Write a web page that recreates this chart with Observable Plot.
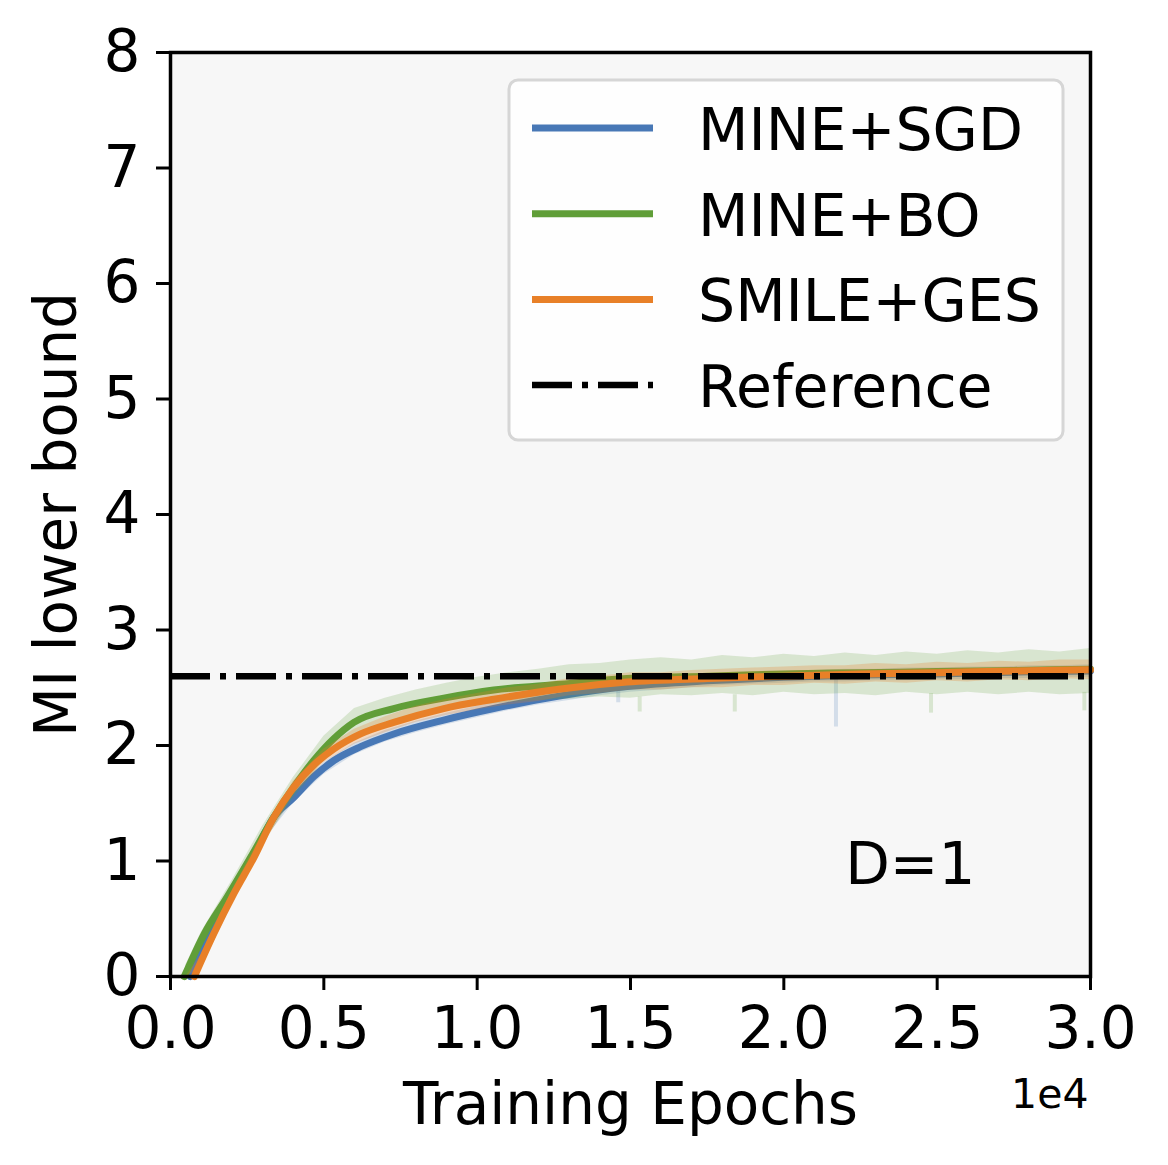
<!DOCTYPE html>
<html><head><meta charset="utf-8">
<script src="https://cdn.jsdelivr.net/npm/d3@7"></script>
<script src="https://cdn.jsdelivr.net/npm/@observablehq/plot@0.6"></script>
<style>body{margin:0;background:#fff;} svg{display:block;}</style>
</head><body><div id="chart"></div>
<script>
// ---- data (x in units of 1e4 epochs) ----
const seriesNames = ["MINE+SGD", "MINE+BO", "SMILE+GES"];
const seriesColors = ["#4878b6", "#609e38", "#e88028"];
const referenceName = "Reference";
const referenceMI = 2.6;

const sgdX = [0.064, 0.13, 0.196, 0.267, 0.337, 0.402, 0.467, 0.533, 0.62, 0.728, 0.891, 1.054, 1.272, 1.489, 1.75, 2.0, 2.25, 2.5, 2.75, 3.0];
const sgdY = [0.0, 0.37, 0.72, 1.03, 1.38, 1.55, 1.73, 1.87, 1.99, 2.10, 2.22, 2.32, 2.43, 2.51, 2.56, 2.59, 2.61, 2.62, 2.635, 2.645];

const boX = [0.045, 0.11, 0.185, 0.261, 0.337, 0.402, 0.467, 0.533, 0.598, 0.728, 0.891, 1.054, 1.272, 1.489, 1.75, 2.0, 2.25, 2.5, 2.75, 3.0];
const boY = [0.0, 0.37, 0.69, 1.03, 1.38, 1.64, 1.87, 2.06, 2.20, 2.32, 2.41, 2.48, 2.53, 2.58, 2.60, 2.62, 2.63, 2.64, 2.65, 2.66];

const gesX = [0.078, 0.141, 0.207, 0.272, 0.337, 0.402, 0.467, 0.533, 0.62, 0.728, 0.891, 1.054, 1.272, 1.489, 1.75, 2.0, 2.25, 2.5, 2.75, 3.0];
const gesY = [0.0, 0.37, 0.72, 1.03, 1.38, 1.64, 1.83, 1.97, 2.10, 2.20, 2.32, 2.40, 2.49, 2.55, 2.58, 2.60, 2.62, 2.63, 2.645, 2.655];

// spread of the raw (unsmoothed) runs
const bandX = [0.05, 0.1, 0.2, 0.3, 0.4, 0.5, 0.6, 0.7, 0.8, 0.9, 1.0, 1.1, 1.2, 1.3, 1.4, 1.5, 1.6, 1.7, 1.8, 1.9, 2.0, 2.1, 2.2, 2.3, 2.4, 2.5, 2.6, 2.7, 2.8, 2.9, 3.0];
const sgdLow  = [0, 0.15, 0.69, 1.16, 1.50, 1.75, 1.92, 2.03, 2.11, 2.18, 2.24, 2.30, 2.35, 2.39, 2.43, 2.46, 2.48, 2.50, 2.52, 2.53, 2.54, 2.55, 2.55, 2.56, 2.56, 2.57, 2.57, 2.58, 2.58, 2.59, 2.59];
const sgdHigh = [0, 0.25, 0.79, 1.26, 1.60, 1.85, 2.02, 2.13, 2.21, 2.28, 2.34, 2.40, 2.45, 2.49, 2.53, 2.56, 2.58, 2.60, 2.62, 2.63, 2.64, 2.65, 2.66, 2.66, 2.67, 2.67, 2.68, 2.68, 2.69, 2.69, 2.70];
const boLow   = [0, 0.24, 0.67, 1.14, 1.54, 1.87, 2.09, 2.19, 2.26, 2.31, 2.35, 2.37, 2.39, 2.40, 2.42, 2.41, 2.44, 2.43, 2.45, 2.43, 2.46, 2.44, 2.45, 2.43, 2.46, 2.44, 2.46, 2.44, 2.46, 2.44, 2.45];
const boHigh  = [0.10, 0.38, 0.83, 1.30, 1.72, 2.08, 2.32, 2.41, 2.48, 2.54, 2.59, 2.63, 2.66, 2.70, 2.71, 2.74, 2.76, 2.74, 2.78, 2.76, 2.79, 2.77, 2.80, 2.78, 2.81, 2.79, 2.82, 2.80, 2.83, 2.81, 2.84];
const gesLow  = [0, 0.07, 0.62, 1.12, 1.57, 1.85, 2.01, 2.11, 2.20, 2.26, 2.31, 2.35, 2.38, 2.43, 2.45, 2.48, 2.48, 2.50, 2.50, 2.52, 2.52, 2.54, 2.53, 2.55, 2.54, 2.56, 2.55, 2.57, 2.56, 2.58, 2.57];
const gesHigh = [0, 0.19, 0.74, 1.24, 1.69, 1.97, 2.14, 2.25, 2.34, 2.40, 2.45, 2.50, 2.53, 2.58, 2.60, 2.63, 2.63, 2.65, 2.66, 2.67, 2.68, 2.69, 2.69, 2.71, 2.70, 2.72, 2.71, 2.73, 2.72, 2.74, 2.74];

// downward spikes in the raw runs
const spikeSeries = ["MINE+SGD", "MINE+SGD", "MINE+BO", "MINE+BO", "MINE+BO", "MINE+BO"];
const spikeX    = [1.46, 2.17, 1.53, 1.84, 2.48, 2.98];
const spikeLow  = [2.37, 2.16, 2.29, 2.29, 2.28, 2.30];
const spikeHigh = [2.50, 2.58, 2.42, 2.44, 2.45, 2.46];

const xTicks = [0, 0.5, 1.0, 1.5, 2.0, 2.5, 3.0];
const yTicks = [0, 1, 2, 3, 4, 5, 6, 7, 8];
const xLabel = "Training Epochs";
const yLabel = "MI lower bound";
const xExponent = "1e4";
const annotations = [{x: 2.2, y: 0.8, text: "D=1"}];

// ---- tables ----
const curves = [[sgdX, sgdY], [boX, boY], [gesX, gesY]].map(([xs, ys], i) =>
  xs.map((x, j) => ({series: seriesNames[i], x, y: ys[j]})));
const bands = [[sgdLow, sgdHigh], [boLow, boHigh], [gesLow, gesHigh]].map(([lo, hi], i) =>
  bandX.map((x, j) => ({series: seriesNames[i], x, lo: lo[j], hi: hi[j]})));
const spikes = spikeX.map((x, i) => ({series: spikeSeries[i], x, lo: spikeLow[i], hi: spikeHigh[i]}));

const bandOpacity = [0.2, 0.2, 0.26];
const marks = [Plot.frame({fill: "#f7f7f7"})];
seriesNames.forEach((name, i) => {
  marks.push(Plot.areaY(bands[i], {x: "x", y1: "lo", y2: "hi", fill: seriesColors[i], fillOpacity: bandOpacity[i]}));
  marks.push(Plot.ruleX(spikes.filter(d => d.series === name), {x: "x", y1: "lo", y2: "hi", stroke: seriesColors[i], strokeOpacity: bandOpacity[i], strokeWidth: 4}));
  marks.push(Plot.line(curves[i], {x: "x", y: "y", stroke: seriesColors[i], strokeWidth: 7, curve: "monotone-x"}));
});
marks.push(Plot.ruleY([referenceMI], {stroke: "black", strokeWidth: 6.5, strokeDasharray: "40,10,6,10"}));
marks.push(Plot.frame({stroke: "black", strokeWidth: 3.5}));
marks.push(Plot.axisX(xTicks, {tickFormat: d3.format(".1f"), tickSize: 14, tickPadding: 16, strokeWidth: 3, label: null, fontSize: 58}));
marks.push(Plot.axisY(yTicks, {tickFormat: d3.format("d"), tickSize: 14, tickPadding: 16, strokeWidth: 3, label: null, fontSize: 58, dy: 0}));
marks.push(Plot.text([xLabel], {text: d => d, frameAnchor: "bottom", lineAnchor: "bottom", dy: 147, fontSize: 58}));
marks.push(Plot.text([yLabel], {text: d => d, frameAnchor: "left", rotate: -90, lineAnchor: "bottom", textAnchor: "middle", dx: -95, fontSize: 58}));
marks.push(Plot.text([xExponent], {text: d => d, frameAnchor: "bottom-right", textAnchor: "end", lineAnchor: "bottom", dy: 131, dx: -2, fontSize: 41}));
marks.push(Plot.text(annotations, {x: "x", y: "y", text: "text", textAnchor: "start", lineAnchor: "bottom", fontSize: 58}));

const chart = Plot.plot({
  width: 1168, height: 1165,
  marginLeft: 170, marginRight: 78, marginTop: 52, marginBottom: 189,
  x: {domain: [0, 3]},
  y: {domain: [0, 8]},
  style: {fontFamily: "'DejaVu Sans', sans-serif", fontSize: "58px", color: "black", background: "white"},
  marks
});
document.getElementById("chart").appendChild(chart);

// ---- legend (inside the axes, upper right) ----
const svg = d3.select(chart);
const lg = svg.append("g").attr("font-family", "'DejaVu Sans', sans-serif").attr("font-size", 58.5).attr("text-anchor", "start");
lg.append("rect").attr("x", 509).attr("y", 80).attr("width", 554).attr("height", 360).attr("rx", 9)
  .attr("fill", "white").attr("fill-opacity", 0.85).attr("stroke", "#d6d6d6").attr("stroke-width", 3);
const legendItems = seriesNames.map((n, i) => ({name: n, color: seriesColors[i], dash: null}))
  .concat([{name: referenceName, color: "black", dash: "40,10,6,10"}]);
legendItems.forEach((d, i) => {
  const y = 128 + i * 85.7;
  lg.append("line").attr("x1", 532).attr("x2", 653).attr("y1", y).attr("y2", y)
    .attr("stroke", d.color).attr("stroke-width", d.dash ? 6.5 : 7).attr("stroke-dasharray", d.dash);
  lg.append("text").attr("x", 698).attr("y", y + 22).attr("text-anchor", "start").attr("fill", "black").text(d.name);
});
</script>
</body></html>
